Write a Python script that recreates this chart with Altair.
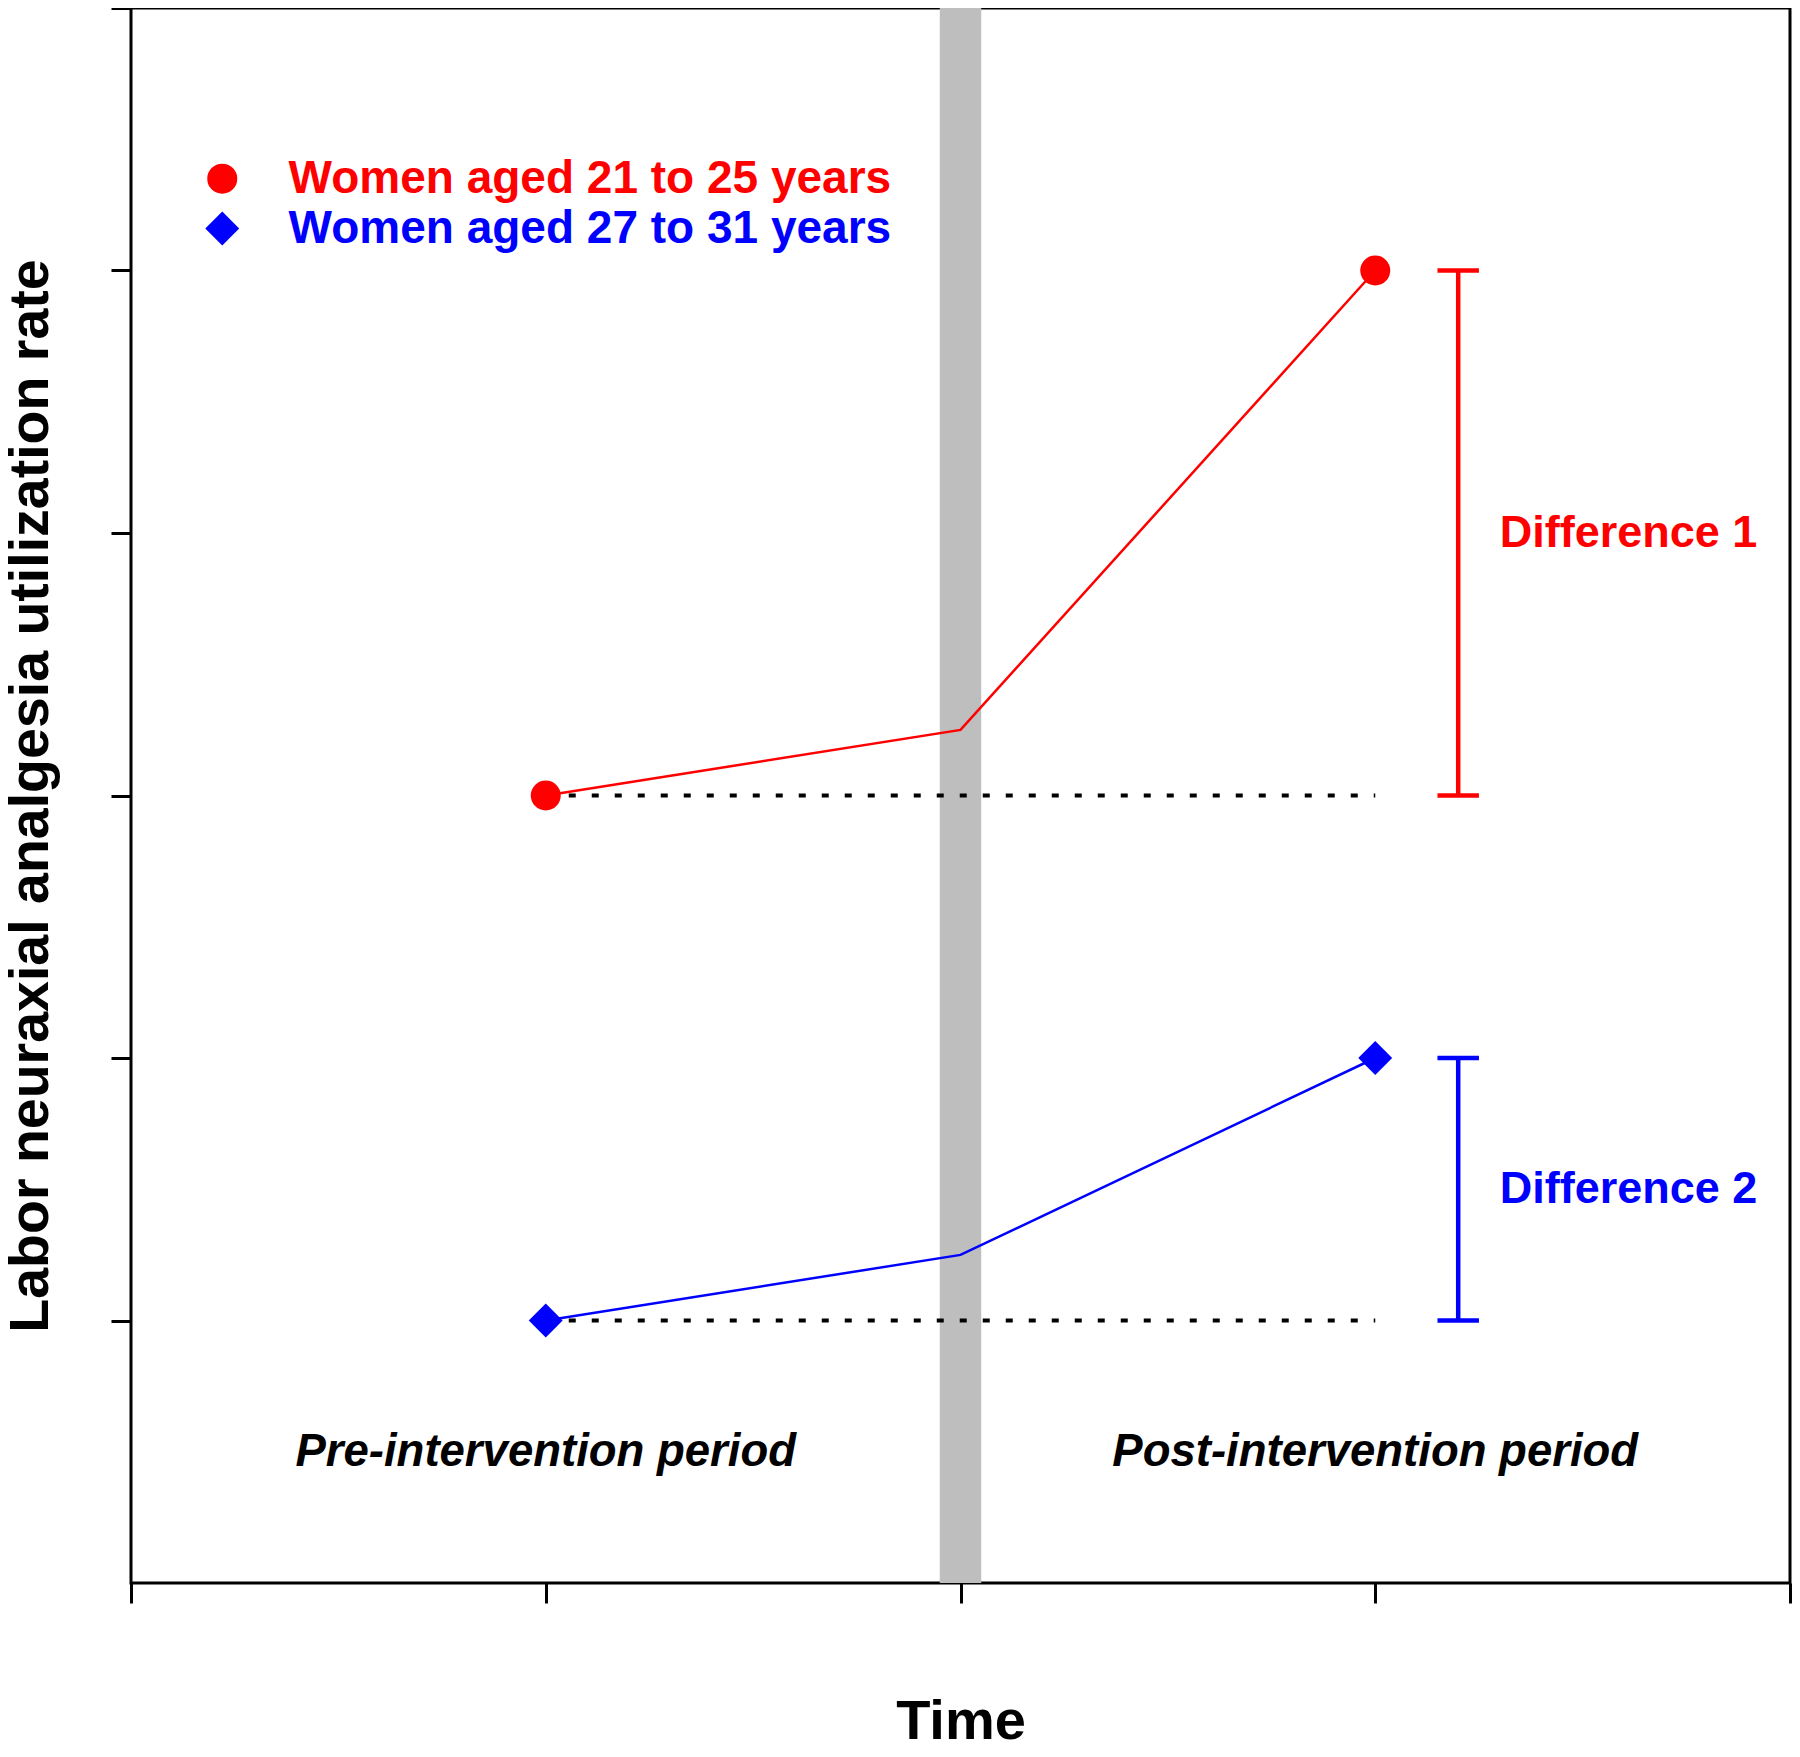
import altair as alt
import pandas as pd

# ---------------- data ----------------
periods = [1, 2, 3]                      # pre, intervention, post
young_rate = [3.0, 3.25, 5.0]            # Women aged 21 to 25 years
older_rate = [1.0, 1.25, 2.0]            # Women aged 27 to 31 years
groups = ["Women aged 21 to 25 years", "Women aged 27 to 31 years"]
group_colors = ["#FF0000", "#0000FF"]
group_shapes = ["circle", "diamond"]
marker_periods = [1, 3]
diff_labels = ["Difference 1", "Difference 2"]
period_labels = ["Pre-intervention period", "Post-intervention period"]
period_label_x = [1, 3]
period_label_y = [0.5, 0.5]
intervention_time = 2
x_ticks = [0, 1, 2, 3, 4]
y_ticks = [1, 2, 3, 4, 5, 6]

# ---------------- layout constants ----------------
FONT = "Liberation Sans"
X_DOMAIN = [0, 4]
Y_DOMAIN = [0, 6]
BAND_HALF = 0.05
BAR_X = 3.2
CAP_HALF = 0.05
DIFF_TEXT_X = 3.3
LEG_MARK_X = 0.22
LEG_TEXT_X = 0.38
LEG_Y = [5.35, 5.16]
PW, PH = 1659, 1575

series = {groups[0]: young_rate, groups[1]: older_rate}

line_df = pd.DataFrame(
    [{"group": g, "x": p, "y": v} for g in groups for p, v in zip(periods, series[g])]
)
point_df = line_df[line_df["x"].isin(marker_periods)].reset_index(drop=True)

base_df = pd.DataFrame({
    "group": groups,
    "x": [periods[0]] * 2,
    "x2": [periods[-1]] * 2,
    "y": [series[g][0] for g in groups],
})

bar_df = pd.DataFrame({
    "group": groups,
    "lo": [series[g][0] for g in groups],
    "hi": [series[g][-1] for g in groups],
    "label": diff_labels,
})
bar_df["mid"] = (bar_df["lo"] + bar_df["hi"]) / 2
bar_df["x"] = BAR_X
bar_df["cx1"] = BAR_X - CAP_HALF
bar_df["cx2"] = BAR_X + CAP_HALF
bar_df["tx"] = DIFF_TEXT_X

caps_df = pd.concat([
    bar_df[["group", "cx1", "cx2"]].assign(y=bar_df["lo"]),
    bar_df[["group", "cx1", "cx2"]].assign(y=bar_df["hi"]),
])

band_df = pd.DataFrame({
    "x": [intervention_time - BAND_HALF],
    "x2": [intervention_time + BAND_HALF],
    "y": [Y_DOMAIN[0]],
    "y2": [Y_DOMAIN[1]],
})

period_df = pd.DataFrame({"x": period_label_x, "y": period_label_y, "label": period_labels})

legend_df = pd.DataFrame({
    "group": groups,
    "y": LEG_Y,
    "mx": [LEG_MARK_X] * 2,
    "tx": [LEG_TEXT_X] * 2,
})

# ---------------- encodings ----------------
x_axis = alt.Axis(
    values=x_ticks, labels=False, grid=False, domain=False,
    ticks=True, tickSize=20, tickWidth=3, tickColor="black",
    title="Time", titleFontSize=56, titleFontWeight="bold", titleColor="black",
    titleFont=FONT, titleX=PW / 2, titleY=155, titleAlign="center",
    titleBaseline="alphabetic",
)
y_axis = alt.Axis(
    values=y_ticks, labels=False, grid=False, domain=False,
    ticks=True, tickSize=20, tickWidth=3, tickColor="black",
    title="Labor neuraxial analgesia utilization rate", titleFontSize=55.5,
    titleFontWeight="bold", titleColor="black", titleFont=FONT,
    titleAngle=270, titleX=-84, titleY=PH / 2, titleAlign="center",
    titleBaseline="alphabetic",
)
xs = alt.Scale(domain=X_DOMAIN, nice=False, zero=False)
ys = alt.Scale(domain=Y_DOMAIN, nice=False, zero=False)
color = alt.Color("group:N", scale=alt.Scale(domain=groups, range=group_colors), legend=None)
shape = alt.Shape("group:N", scale=alt.Scale(domain=groups, range=group_shapes), legend=None)
psize = alt.Size("group:N", scale=alt.Scale(domain=groups, range=[900, 1150]), legend=None)
lsize = alt.Size("group:N", scale=alt.Scale(domain=groups, range=[820, 1000]), legend=None)


def X(field):
    return alt.X(field, type="quantitative", scale=xs, axis=x_axis)


def Y(field):
    return alt.Y(field, type="quantitative", scale=ys, axis=y_axis)


band = alt.Chart(band_df).mark_rect(color="#BEBEBE").encode(
    x=X("x"), x2="x2", y=Y("y"), y2="y2"
)

dotted = alt.Chart(base_df).mark_rule(
    color="black", strokeWidth=4, strokeDash=[7, 16], strokeCap="butt"
).encode(x=X("x"), x2="x2", y=Y("y"))

lines = alt.Chart(line_df).mark_line(strokeWidth=2.5).encode(
    x=X("x"), y=Y("y"), color=color, detail="group:N"
)

points = alt.Chart(point_df).mark_point(filled=True, opacity=1).encode(
    x=X("x"), y=Y("y"), color=color, shape=shape, size=psize
)

bars = alt.Chart(bar_df).mark_rule(strokeWidth=4.5).encode(
    x=X("x"), y=Y("lo"), y2="hi", color=color
)
caps = alt.Chart(caps_df).mark_rule(strokeWidth=4.5).encode(
    x=X("cx1"), x2="cx2", y=Y("y"), color=color
)
diff_text = alt.Chart(bar_df).mark_text(
    align="left", baseline="middle", fontSize=45, fontWeight="bold", font=FONT
).encode(x=X("tx"), y=Y("mid"), text="label:N", color=color)

period_text = alt.Chart(period_df).mark_text(
    align="center", baseline="middle", fontSize=45.5, fontWeight="bold",
    fontStyle="italic", font=FONT, color="black"
).encode(x=X("x"), y=Y("y"), text="label:N")

legend_marks = alt.Chart(legend_df).mark_point(filled=True, opacity=1).encode(
    x=X("mx"), y=Y("y"), color=color, shape=shape, size=lsize
)
legend_text = alt.Chart(legend_df).mark_text(
    align="left", baseline="middle", fontSize=46, fontWeight="bold", font=FONT
).encode(x=X("tx"), y=Y("y"), text="group:N", color=color)

chart = alt.layer(
    band, dotted, lines, points, bars, caps, diff_text, period_text,
    legend_marks, legend_text
).properties(
    width=PW, height=PH,
    autosize=alt.AutoSizeParams(type="none"),
    padding={"left": 123, "top": 0, "right": 2, "bottom": 158},
).configure(
    font=FONT, background="white"
).configure_view(
    stroke="black", strokeWidth=3
)

chart.save("out.html", embed_options={"renderer": "svg", "actions": False})
